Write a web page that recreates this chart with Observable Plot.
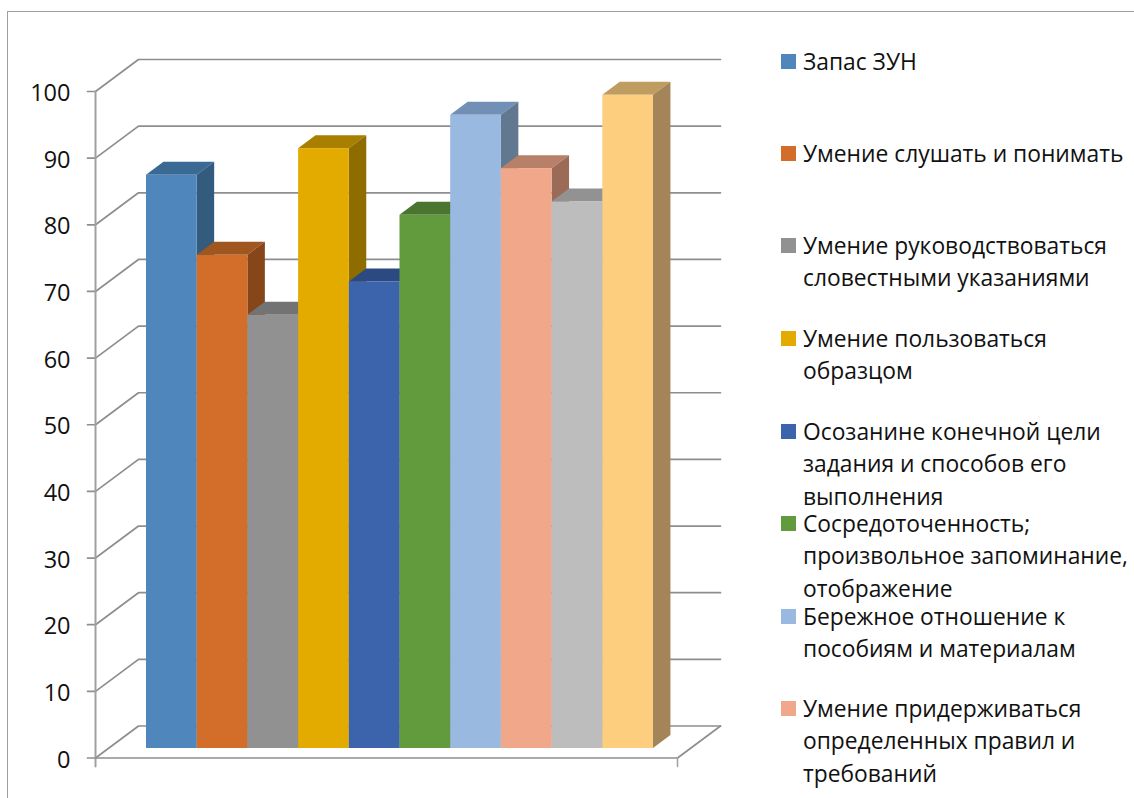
<!DOCTYPE html>
<html lang="ru">
<head>
<meta charset="utf-8">
<script src="https://cdn.jsdelivr.net/npm/d3@7"></script>
<script src="https://cdn.jsdelivr.net/npm/@observablehq/plot@0.6"></script>
<style>
html,body{margin:0;padding:0;background:#fff;overflow:hidden}
#wrap{position:relative;width:1134px;height:798px;overflow:hidden}
#frame{position:absolute;left:7px;top:11px;width:1200px;height:900px;border:1.5px solid #a0a0a0;box-sizing:border-box}
#chart{position:absolute;left:0;top:0}
#legend{position:absolute;left:0;top:0;font-family:"Open Sans",sans-serif;font-size:22.8px;line-height:32.8px;color:#111}
.sw{position:absolute;width:15px;height:15px}
.tx{position:absolute;left:803px;white-space:pre}
</style>
</head>
<body>
<div id="wrap"><div id="frame"></div><div id="chart"></div><div id="legend"></div></div>
<script>
const categories = [
  "Запас ЗУН",
  "Умение слушать и понимать",
  "Умение руководствоваться\nсловестными указаниями",
  "Умение пользоваться\nобразцом",
  "Осозанине конечной цели\nзадания и способов его\nвыполнения",
  "Сосредоточенность;\nпроизвольное запоминание,\nотображение",
  "Бережное отношение к\nпособиям и материалам",
  "Умение придерживаться\nопределенных правил и\nтребований",
  "",
  ""
];
const values = [86, 74, 65, 90, 70, 80, 95, 87, 82, 98];
const frontColors = ["#4f87bd","#d26d2a","#919191","#e3aa00","#3b64ad","#629a3e","#9ab9e1","#f1a78a","#bdbdbd","#fece7f"];
const topColors   = ["#3a6a94","#a0561f","#737373","#a97f00","#2c4a82","#4a742f","#7290b5","#b87f69","#929292","#bf9c60"];
const sideColors  = ["#325b7e","#864619","#616161","#8f6c00","#284273","#3e6227","#617890","#9b6b58","#7e7e7e","#a4855a"];
const yTicks = d3.range(0, 101, 10);
const legendTops = [54, 146, 238, 331, 424, 516, 609, 701];

// oblique projection: screen position = (t + depth*DX, value + depth*DY)
const W = 1134, H = 798;
const unitX = 50.7, unitY = 6.665;           // px per category, px per value
const DX = 43 / unitX, DY = 32 / unitY;      // full floor depth in scale units
const floorLen = 582 / unitX;                // floor width in categories
const gap = 0.754;                           // space before first bar
const dFront = 0.297, dBack = 0.703;         // bar depth extent
const tickX = 8 / unitX, tickY = 8.5 / unitY;
const P = (t, v, d = 0) => ({x: t + d * DX, y: v + d * DY});

const gridData = yTicks.flatMap(v => [
  {v, ...P(-tickX, v, 0)}, {v, ...P(0, v, 0)}, {v, ...P(0, v, 1)}, {v, ...P(floorLen, v, 1)}
]);
const gridStroke = {x: "x", y: "y", stroke: "#8e8e8e", strokeWidth: 1.7};

const marks = [
  Plot.line(gridData, {...gridStroke, z: "v"}),
  Plot.line([P(0, 100), P(0, 0), P(0, -tickY)], {x: "x", y: "y", stroke: "#a0a0a0", strokeWidth: 2}),
  Plot.line([P(0, 0), P(floorLen, 0), P(floorLen, 0, 1)], {...gridStroke}),
  Plot.line([P(floorLen, 0), P(floorLen, -tickY)], {x: "x", y: "y", stroke: "#a0a0a0", strokeWidth: 1.5})
];

values.forEach((v, i) => {
  const t0 = gap + i, t1 = t0 + 1;
  const topFace = [P(0, v, dFront), P(0, v, dBack)].map((p, k) => ({
    y: p.y, x1: t0 + (k ? dBack : dFront) * DX, x2: t1 + (k ? dBack : dFront) * DX
  }));
  const sideFace = [dFront, dBack].map(d => ({x: t1 + d * DX, y1: d * DY, y2: v + d * DY}));
  marks.push(
    Plot.areaX(topFace, {y: "y", x1: "x1", x2: "x2", fill: topColors[i]}),
    Plot.areaY(sideFace, {x: "x", y1: "y1", y2: "y2", fill: sideColors[i]}),
    Plot.rect([{v}], {
      x1: t0 + dFront * DX, x2: t1 + dFront * DX,
      y1: dFront * DY, y2: d => d.v + dFront * DY,
      fill: frontColors[i], inset: 0
    })
  );
});

marks.push(
  Plot.text(yTicks, {
    x: -tickX - 17 / unitX, y: d => d, text: d => String(d), textAnchor: "end",
    dy: 2, fontSize: 23.5, fontFamily: "Open Sans", fill: "#111"
  })
);

const plot = Plot.plot({
  width: W, height: H,
  marginTop: 0, marginRight: 0, marginBottom: 0, marginLeft: 0,
  x: {domain: [-95 / unitX, (W - 95) / unitX], range: [0, W], axis: null},
  y: {domain: [757.5 / unitY, (757.5 - H) / unitY], range: [0, H], axis: null},
  style: {background: "transparent"},
  marks
});
document.getElementById("chart").append(plot);

const legend = document.getElementById("legend");
legendTops.forEach((top, i) => {
  const sw = document.createElement("div");
  sw.className = "sw";
  sw.style.cssText = `left:781px;top:${top}px;background:${frontColors[i]}`;
  const tx = document.createElement("div");
  tx.className = "tx";
  tx.style.top = (top - 8.5) + "px";
  tx.textContent = categories[i];
  legend.append(sw, tx);
});
</script>
</body>
</html>
